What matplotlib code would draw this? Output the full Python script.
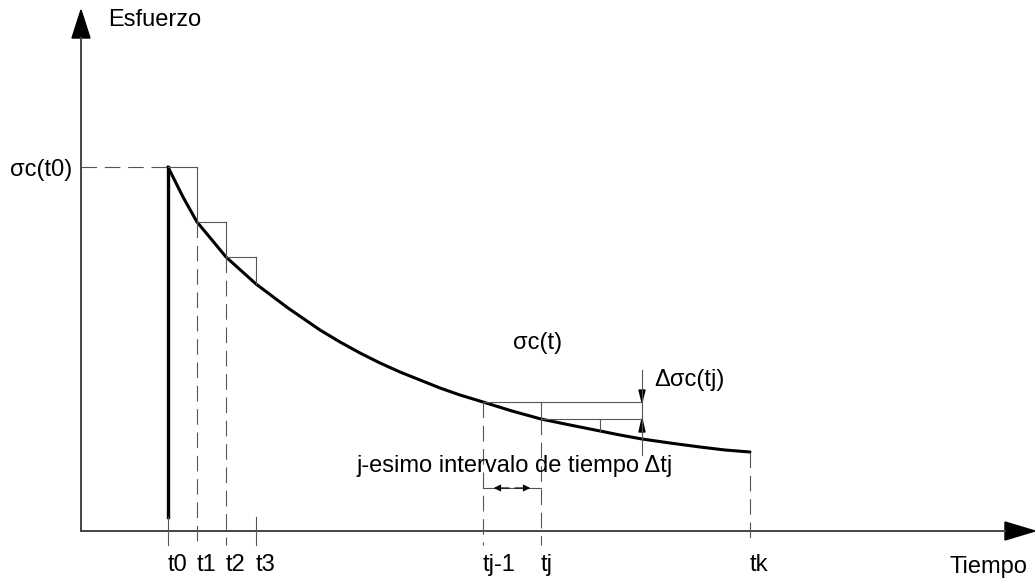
import numpy as np
import matplotlib.pyplot as plt

plt.rcParams['font.family'] = ['Liberation Sans', 'DejaVu Sans']

# time marks on the horizontal axis (schematic units, origin at the axes corner)
mark_labels = ['t0', 't1', 't2', 't3', 'tj-1', 'tj', 'tk']
mark_t = [87, 116, 145, 175, 402, 460, 669]

# stress history sigma_c(t)
curve_t = [87, 92, 102, 116, 131, 145, 175, 191, 207, 223, 239, 259, 279, 299, 319,
           339, 359, 379, 402, 431, 460, 489, 519, 539, 561, 589, 619, 644, 669]
curve_s = [364, 354, 334, 309, 291, 274, 247, 235, 223, 212, 201, 189, 178, 168, 159,
           151, 143, 136, 129, 120, 112, 106, 100, 96, 92, 88, 84, 81, 79]

# stress at the start of each step
sigma_t0, sigma_t1, sigma_t2, sigma_t3 = 364, 309, 274, 247
sigma_tj1, sigma_tj = 129, 112
sigma_sub = 100      # intermediate sub-step inside interval j
t_sub = 519
t_delta = 561        # where delta sigma is measured

fig = plt.figure(figsize=(10.35, 5.79), dpi=100)
ax = fig.add_axes([0, 0, 1, 1])
ax.set_xlim(-81, 954)
ax.set_ylim(-48, 531)
ax.axis('off')

thin = dict(color='#555555', lw=0.8)
dash = dict(color='#555555', lw=0.8, linestyle=(0, (14, 7)))

# axes with arrow heads
ax.plot([0, 0], [0, 493], color='#444444', lw=1.4)
ax.plot([0, 924], [0, 0], color='#444444', lw=1.4)
ax.fill([-9, 9, 0], [493, 493, 521], color='black')
ax.fill([924, 924, 954], [9, -9, 0], color='black')

# stress curve and initial load
ax.plot(curve_t, curve_s, color='black', lw=2.2, solid_capstyle='round', solid_joinstyle='round')
ax.plot([mark_t[0], mark_t[0]], [sigma_t0, 14], color='black', lw=2.4)
ax.plot([mark_t[0], mark_t[0]], [14, -14], **thin)

# first steps t0..t3
ax.plot([0, mark_t[0]], [sigma_t0, sigma_t0], **dash)
ax.plot([mark_t[0], mark_t[1]], [sigma_t0, sigma_t0], **thin)
ax.plot([mark_t[1], mark_t[1]], [sigma_t0, sigma_t1], **thin)
ax.plot([mark_t[1], mark_t[2]], [sigma_t1, sigma_t1], **thin)
ax.plot([mark_t[2], mark_t[2]], [sigma_t1, sigma_t2], **thin)
ax.plot([mark_t[2], mark_t[3]], [sigma_t2, sigma_t2], **thin)
ax.plot([mark_t[3], mark_t[3]], [sigma_t2, sigma_t3], **thin)
ax.plot([mark_t[1], mark_t[1]], [sigma_t1, -14], **dash)
ax.plot([mark_t[2], mark_t[2]], [sigma_t2, -14], **dash)
ax.plot([mark_t[3], mark_t[3]], [14, -14], **thin)

# interval j
ax.plot([mark_t[4], mark_t[4]], [sigma_tj1, -14], **dash)
ax.plot([mark_t[4], t_delta], [sigma_tj1, sigma_tj1], **thin)
ax.plot([mark_t[5], mark_t[5]], [sigma_tj1, sigma_tj], **thin)
ax.plot([mark_t[5], mark_t[5]], [sigma_tj, -14], **dash)
ax.plot([mark_t[5], t_delta], [sigma_tj, sigma_tj], **thin)
ax.plot([t_sub, t_sub], [sigma_tj, sigma_sub], **thin)
ax.plot([mark_t[6], mark_t[6]], [curve_s[-1], -14], **dash)

# delta sigma dimension
ax.plot([t_delta, t_delta], [161, 76], **thin)
ax.fill([t_delta - 3, t_delta + 3, t_delta], [141, 141, sigma_tj1], color='black')
ax.fill([t_delta - 3, t_delta + 3, t_delta], [sigma_tj - 13, sigma_tj - 13, sigma_tj], color='black')

# interval dimension
ax.plot([mark_t[4], mark_t[5]], [43, 43], **thin)
ax.annotate('', xy=(mark_t[4] + 8, 43), xytext=(mark_t[4] + 29, 43),
            arrowprops=dict(arrowstyle='-|>', color='black', lw=0.8, mutation_scale=10))
ax.annotate('', xy=(mark_t[5] - 8, 43), xytext=(mark_t[5] - 29, 43),
            arrowprops=dict(arrowstyle='-|>', color='black', lw=0.8, mutation_scale=10))

fs = 17
ax.text(27, 511, 'Esfuerzo', fontsize=fs, va='center', ha='left')
ax.text(-9, 361, 'σc(t0)', fontsize=fs, va='center', ha='right')
ax.text(432, 188, 'σc(t)', fontsize=fs, va='center', ha='left')
ax.text(573, 151, 'Δσc(tj)', fontsize=fs, va='center', ha='left')
ax.text(275, 65, 'j-esimo intervalo de tiempo Δtj', fontsize=fs, va='center', ha='left')
for t, lab in zip(mark_t, mark_labels):
    ax.text(t, -34, lab, fontsize=fs, va='center', ha='left')
ax.text(868, -36, 'Tiempo', fontsize=fs, va='center', ha='left')

fig.savefig('out.png', dpi=100)
